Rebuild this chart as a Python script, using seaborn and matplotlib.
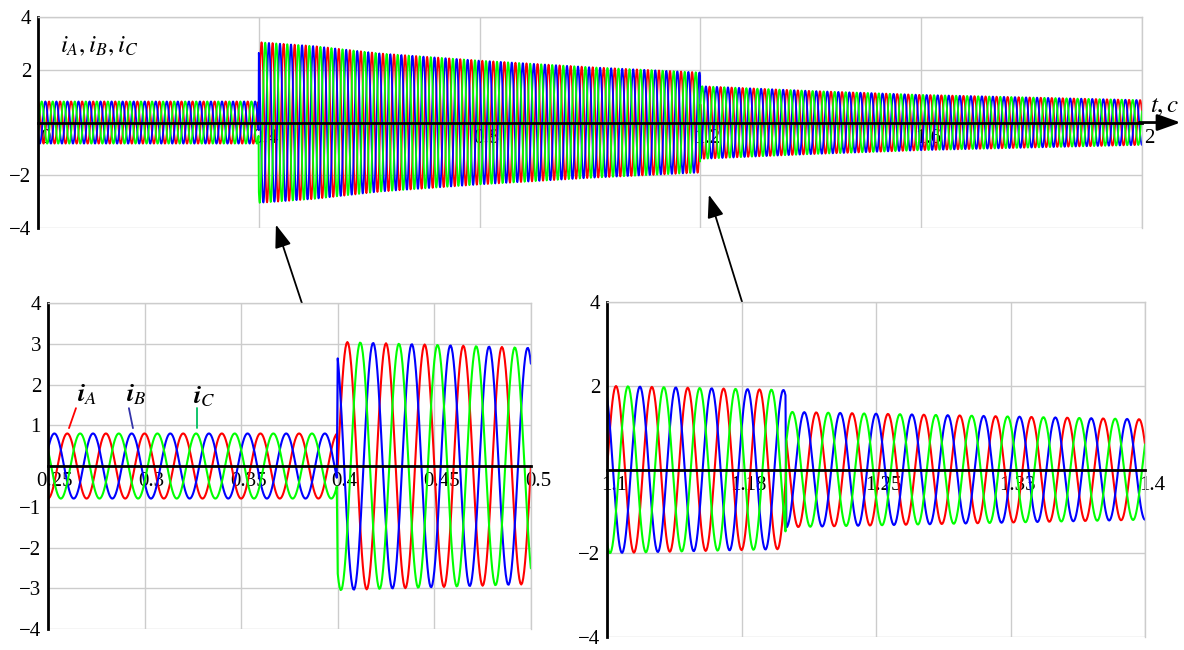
import numpy as np
import matplotlib
matplotlib.use('Agg')
import matplotlib.pyplot as plt
import matplotlib.transforms as mtransforms
import seaborn as sns

# ---- values ----
freq = 50.0        # Hz
dt = 0.0005        # sampling step, s

# amplitude of the phase currents at some moments (t, A)
t_env_1 = [0.0, 0.4]
a_env_1 = [0.8, 0.8]
t_env_2 = [0.4, 0.5, 0.62, 0.8, 1.0, 1.2]
a_env_2 = [3.05, 2.9, 2.62, 2.35, 2.1, 1.9]
t_env_3 = [1.2, 1.4, 1.6, 2.0]
a_env_3 = [1.38, 1.2, 1.05, 0.85]

# start of each interval and phase of i_A in it (deg)
seg_start = [0.0, 0.4, 1.2]
seg_phase = [0, -90, 60]

phases = ['A', 'B', 'C']
phase_shift = [0, 120, -120]
colors = ['#ff0000', '#0000ff', '#00ff00']

top_xticks = [0, 0.4, 0.8, 1.2, 1.6, 2]
top_xlabels = ['0', '0.4', '0.8', '1.2', '1.6', '2']
left_xticks = [0.25, 0.3, 0.35, 0.4, 0.45, 0.5]
left_xlabels = ['0.25', '0.3', '0.35', '0.4', '0.45', '0.5']
right_xticks = [1.1, 1.175, 1.25, 1.325, 1.4]
right_xlabels = ['1.1', '1.18', '1.25', '1.33', '1.4']

# ---- build the currents ----
t = np.round(np.arange(0, 4001) * dt, 6)
seg = np.searchsorted(seg_start, t, side='right') - 1
env = np.where(seg == 0, np.interp(t, t_env_1, a_env_1),
               np.where(seg == 1, np.interp(t, t_env_2, a_env_2),
                        np.interp(t, t_env_3, a_env_3)))
phi = np.deg2rad(np.array(seg_phase))[seg]
currents = {}
for p, s in zip(phases, phase_shift):
    currents[p] = env * np.cos(2 * np.pi * freq * t + phi + np.deg2rad(s))

# ---- figure ----
sns.set_style('white')
plt.rcParams['font.family'] = ['Liberation Serif', 'DejaVu Serif']
plt.rcParams['mathtext.fontset'] = 'stix'
plt.rcParams['text.color'] = 'black'

fig = plt.figure(figsize=(11.84, 6.5), dpi=100)
ax_top = fig.add_axes([0.0321, 0.6492, 0.9324, 0.3246])
ax_l = fig.add_axes([0.0405, 0.0323, 0.4079, 0.5015])
ax_r = fig.add_axes([0.5127, 0.0200, 0.4544, 0.5153])


def style_axes(ax, xlim, xticks, xlabels, yticks):
    ax.set_xlim(xlim)
    ax.set_ylim(-4, 4)
    ax.set_xticks(xticks)
    ax.set_xticklabels(xlabels)
    ax.set_yticks(yticks)
    ax.set_xlabel('')
    ax.set_ylabel('')
    ax.grid(True, color='#cccccc', lw=1)
    ax.set_axisbelow(True)
    for s in ['top', 'right']:
        ax.spines[s].set_color('#cccccc')
        ax.spines[s].set_linewidth(1)
    ax.spines['left'].set_color('black')
    ax.spines['left'].set_linewidth(2)
    ax.spines['bottom'].set_position(('data', 0))
    ax.spines['bottom'].set_color('black')
    ax.spines['bottom'].set_linewidth(2)
    ax.tick_params(axis='y', direction='inout', length=10, width=2, pad=0, labelsize=15,
                   colors='black')
    ax.tick_params(axis='x', direction='inout', length=7, width=1.5, pad=1, labelsize=15,
                   colors='black')
    offset = mtransforms.ScaledTranslation(5 / 72, 0, fig.dpi_scale_trans)
    for lab in ax.get_xticklabels():
        lab.set_transform(lab.get_transform() + offset)


panels = [(ax_top, (0, 2), 1.3), (ax_l, (0.25, 0.5), 1.5), (ax_r, (1.1, 1.4), 1.5)]
for ax, (x0, x1), lw in panels:
    m = (t >= x0) & (t <= x1)
    for p, c in zip(phases, colors):
        sns.lineplot(x=t[m], y=currents[p][m], color=c, linewidth=lw, ax=ax,
                     estimator=None, sort=False)

style_axes(ax_top, (0, 2), top_xticks, top_xlabels, [-4, -2, 2, 4])
style_axes(ax_l, (0.25, 0.5), left_xticks, left_xlabels, [-4, -3, -2, -1, 1, 2, 3, 4])
style_axes(ax_r, (1.1, 1.4), right_xticks, right_xlabels, [-4, -2, 2, 4])

# axis names
ax_top.text(0.04, 2.9, r'$i_A,i_B,i_C$', fontsize=18, ha='left', va='center')
ax_top.text(2.014, 0.6, r'$t,c$', fontsize=18, ha='left', va='center')
ax_top.annotate('', xy=(2.075, 0), xytext=(1.99, 0), annotation_clip=False,
                arrowprops=dict(arrowstyle='-|>,head_length=0.7,head_width=0.25',
                                color='black', lw=2, mutation_scale=20))

# phase labels with leaders
leaders = [(0.2702, 1.74, 0.2645, 1.42, 0.2609, 0.93, 'A', '#ff0000'),
           (0.2955, 1.74, 0.2919, 1.42, 0.2940, 0.93, 'B', '#3333aa'),
           (0.3307, 1.69, 0.3271, 1.42, 0.3271, 0.93, 'C', '#00c060')]
for tx, ty, x0, y0, x1, y1, p, c in leaders:
    ax_l.text(tx, ty, r'$\mathbfit{i}_{\mathit{%s}}$' % p, fontsize=19, ha='center', va='center')
    ax_l.plot([x0, x1], [y0, y1], color=c, lw=1.3)

# zoom arrows
arrow_kw = dict(arrowstyle='-|>,head_length=0.7,head_width=0.25', color='black', lw=1.3,
                mutation_scale=20)
ax_top.annotate('', xy=(0.2323, 0.6585), xycoords='figure fraction',
                xytext=(0.2787, 0.4031), textcoords='figure fraction',
                arrowprops=arrow_kw, annotation_clip=False)
ax_top.annotate('', xy=(0.598, 0.7046), xycoords='figure fraction',
                xytext=(0.6419, 0.4462), textcoords='figure fraction',
                arrowprops=arrow_kw, annotation_clip=False)

plt.savefig('out.png', dpi=100)
